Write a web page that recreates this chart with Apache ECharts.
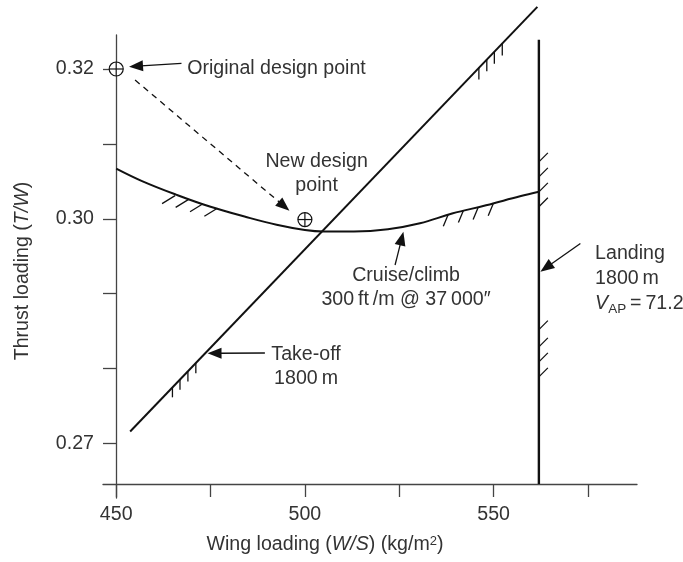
<!DOCTYPE html>
<html>
<head>
<meta charset="utf-8">
<script src="https://cdn.jsdelivr.net/npm/echarts@6/dist/echarts.min.js"></script>
<style>html,body{margin:0;padding:0;background:#fff}#c{width:683px;height:562px}</style>
</head>
<body>
<div id="c"></div>
<script>
// ---- data ----
const xTicks = [450, 475, 500, 525, 550, 575];
const xLabels = [450, 500, 550];
const yTicks = [0.27, 0.28, 0.29, 0.30, 0.31, 0.32];
const yLabels = [0.27, 0.30, 0.32];

const cruiseWS = [450, 457, 466, 475, 484, 492.5, 500, 505, 513, 522, 530.5, 539, 548, 557, 562];
const cruiseTW = [0.3067, 0.3050, 0.3032, 0.3016, 0.3003, 0.2992, 0.2985, 0.2983, 0.2983, 0.2986, 0.2994, 0.3007, 0.3018, 0.3030, 0.3036];

const takeoffWS = [453.7, 561.6];
const takeoffTW = [0.2716, 0.3283];

const landingWS = [562, 562];
const landingTW = [0.2646, 0.3239];

const originalPoint = [450, 0.32];
const newPoint = [500, 0.2999];

const takeoffLowHatchWS = [464.9, 466.9, 469.0, 471.1];
const takeoffLowHatchTW = [0.2775, 0.2785, 0.2796, 0.2807];
const takeoffHighHatchWS = [546.1, 548.2, 550.2, 552.3];
const takeoffHighHatchTW = [0.3202, 0.3213, 0.3223, 0.3234];
const cruiseLeftHatchWS = [465.6, 469.2, 473.0, 476.8];
const cruiseLeftHatchTW = [0.3031, 0.3026, 0.3020, 0.3014];
const cruiseRightHatchWS = [538.0, 542.0, 545.9, 549.9];
const cruiseRightHatchTW = [0.3006, 0.3011, 0.3015, 0.3020];
const landingHatchWS = [562, 562, 562, 562, 562, 562, 562, 562];
const landingHatchTW = [0.3076, 0.3056, 0.3036, 0.3016, 0.2852, 0.2829, 0.2809, 0.2789];

// annotation arrows: [fromWS, fromTW, toWS, toTW]
const arrowSolid = [
  [467.3, 0.32076, 453.4, 0.32031],
  [489.4, 0.28208, 474.2, 0.28204],
  [523.9, 0.29383, 526.1, 0.29828],
  [573.0, 0.29670, 562.4, 0.29294]
];
const arrowDashed = [[455.0, 0.31853, 495.9, 0.30108]];

// annotation texts
const annoText = [
  'Original design point',
  'New design\npoint',
  'Take-off\n1800\u2009m',
  'Cruise/climb\n300\u2009ft\u2009/m @ 37\u2009000\u2033',
  'Landing\n1800\u2009m\n{v|V}{s|AP}{n|\u2009=\u200971.2}'
];
const annoWS = [468.8, 503.1, 500.3, 526.8, 576.9];
const annoTW = [0.3200, 0.30598, 0.28021, 0.2908, 0.29205];

// ---- style ----
const FONT = 'Liberation Sans';
const TXT = '#333';
const AX = '#444';
const INK = '#111';
const FS = 19.6;
const annoAlign = ['left', 'center', 'center', 'center', 'left'];
const annoLH = [22, 24, 24, 23.5, 25];

function hatchSeries(ws, tw, dir) {
  return {
    type: 'custom', coordinateSystem: 'cartesian2d', clip: false, silent: true, z: 5,
    data: ws.map((x, i) => [x, tw[i]]), encode: { x: 0, y: 1 },
    renderItem: (params, api) => {
      const p = api.coord([api.value(0), api.value(1)]);
      return { type: 'line', shape: { x1: p[0], y1: p[1], x2: p[0] + dir[0], y2: p[1] + dir[1] },
        style: { stroke: INK, lineWidth: 1.3 } };
    }
  };
}

function arrowSeries(rows, dashed) {
  return {
    type: 'custom', coordinateSystem: 'cartesian2d', clip: false, silent: true, z: 6,
    data: rows, encode: { x: [0, 2], y: [1, 3] },
    renderItem: (params, api) => {
      const a = api.coord([api.value(0), api.value(1)]);
      const b = api.coord([api.value(2), api.value(3)]);
      const dx = b[0] - a[0], dy = b[1] - a[1];
      const len = Math.sqrt(dx * dx + dy * dy);
      const ux = dx / len, uy = dy / len, nx = -uy, ny = ux;
      const L = 14, W = 5.5;
      const bx = b[0] - ux * L, by = b[1] - uy * L;
      return { type: 'group', children: [
        { type: 'line', shape: { x1: a[0], y1: a[1], x2: bx + ux * 2, y2: by + uy * 2 },
          style: { stroke: INK, lineWidth: 1.3, lineDash: dashed ? [6, 5] : null } },
        { type: 'polygon', shape: { points: [[b[0], b[1]], [bx + nx * W, by + ny * W], [bx - nx * W, by - ny * W]] },
          style: { fill: INK } }
      ] };
    }
  };
}

const designPointSeries = {
  type: 'custom', coordinateSystem: 'cartesian2d', clip: false, silent: true, z: 7,
  data: [originalPoint, newPoint], encode: { x: 0, y: 1 },
  renderItem: (params, api) => {
    const p = api.coord([api.value(0), api.value(1)]);
    const r = 7;
    const st = { stroke: INK, lineWidth: 1.2, fill: null };
    return { type: 'group', children: [
      { type: 'circle', shape: { cx: p[0], cy: p[1], r: r }, style: { stroke: INK, lineWidth: 1.2, fill: '#fff' } },
      { type: 'line', shape: { x1: p[0] - r, y1: p[1], x2: p[0] + r, y2: p[1] }, style: st },
      { type: 'line', shape: { x1: p[0], y1: p[1] - r, x2: p[0], y2: p[1] + r }, style: st }
    ] };
  }
};

const textSeries = {
  type: 'custom', coordinateSystem: 'cartesian2d', clip: false, silent: true, z: 8,
  data: annoWS.map((x, i) => [x, annoTW[i], i]), encode: { x: 0, y: 1 },
  renderItem: (params, api) => {
    const i = api.value(2);
    const p = api.coord([api.value(0), api.value(1)]);
    return { type: 'text', x: p[0], y: p[1], style: {
      text: annoText[i], fill: TXT, fontFamily: FONT, fontSize: FS,
      align: annoAlign[i], verticalAlign: 'middle', lineHeight: annoLH[i],
      rich: {
        v: { fontStyle: 'italic', fontFamily: FONT, fontSize: FS, fill: TXT, lineHeight: 25 },
        s: { fontFamily: FONT, fontSize: 13.5, fill: TXT, verticalAlign: 'bottom', lineHeight: 12 },
        n: { fontFamily: FONT, fontSize: FS, fill: TXT, lineHeight: 25 }
      }
    } };
  }
};

const chart = echarts.init(document.getElementById('c'), null, { renderer: 'canvas' });
chart.setOption({
  animation: false,
  backgroundColor: '#fff',
  grid: { left: 103, right: 46, top: 35, bottom: 64, containLabel: false },
  xAxis: {
    type: 'value', min: 446.5, max: 588, offset: -14,
    name: 'Wing loading ({i|W/S}) (kg/m{sup|2})', nameLocation: 'middle', nameGap: 51,
    nameTextStyle: { fontFamily: FONT, fontSize: FS, color: TXT, padding: [0, 90, 0, 0],
      rich: { i: { fontStyle: 'italic', fontFamily: FONT, fontSize: FS, color: TXT },
              sup: { fontFamily: FONT, fontSize: 13, color: TXT, verticalAlign: 'top', lineHeight: 14 } } },
    axisLine: { show: true, lineStyle: { color: AX, width: 1.3 } },
    axisTick: { show: true, length: 13, customValues: xTicks, lineStyle: { color: AX, width: 1.3 } },
    axisLabel: { customValues: xLabels, margin: 21, fontFamily: FONT, fontSize: FS, color: TXT },
    splitLine: { show: false }
  },
  yAxis: {
    type: 'value', min: 0.262724, max: 0.324539, offset: -13,
    name: 'Thrust loading ({i|T/W})', nameLocation: 'middle', nameGap: 83, nameRotate: 90,
    nameTextStyle: { fontFamily: FONT, fontSize: FS, color: TXT, padding: [0, 9, 0, 0],
      rich: { i: { fontStyle: 'italic', fontFamily: FONT, fontSize: FS, color: TXT } } },
    axisLine: { show: true, lineStyle: { color: AX, width: 1.3 } },
    axisTick: { show: true, length: 13, customValues: yTicks, lineStyle: { color: AX, width: 1.3 } },
    axisLabel: { customValues: yLabels, margin: 22, fontFamily: FONT, fontSize: FS, color: TXT,
      formatter: v => v.toFixed(2) },
    splitLine: { show: false }
  },
  series: [
    { type: 'line', name: 'Cruise/climb', data: cruiseWS.map((x, i) => [x, cruiseTW[i]]), smooth: 0.4,
      showSymbol: false, clip: false, lineStyle: { color: INK, width: 2 }, silent: true, z: 3 },
    { type: 'line', name: 'Take-off', data: takeoffWS.map((x, i) => [x, takeoffTW[i]]),
      showSymbol: false, clip: false, lineStyle: { color: INK, width: 2 }, silent: true, z: 3 },
    { type: 'line', name: 'Landing', data: landingWS.map((x, i) => [x, landingTW[i]]),
      showSymbol: false, clip: false, lineStyle: { color: INK, width: 2.4 }, silent: true, z: 3 },
    hatchSeries(takeoffLowHatchWS, takeoffLowHatchTW, [0, 10]),
    hatchSeries(takeoffHighHatchWS, takeoffHighHatchTW, [0, 12]),
    hatchSeries(cruiseLeftHatchWS, cruiseLeftHatchTW, [-13, 8]),
    hatchSeries(cruiseRightHatchWS, cruiseRightHatchTW, [-5, 12]),
    hatchSeries(landingHatchWS, landingHatchTW, [9, -9]),
    arrowSeries(arrowSolid, false),
    arrowSeries(arrowDashed, true),
    designPointSeries,
    textSeries
  ]
});
</script>
</body>
</html>
